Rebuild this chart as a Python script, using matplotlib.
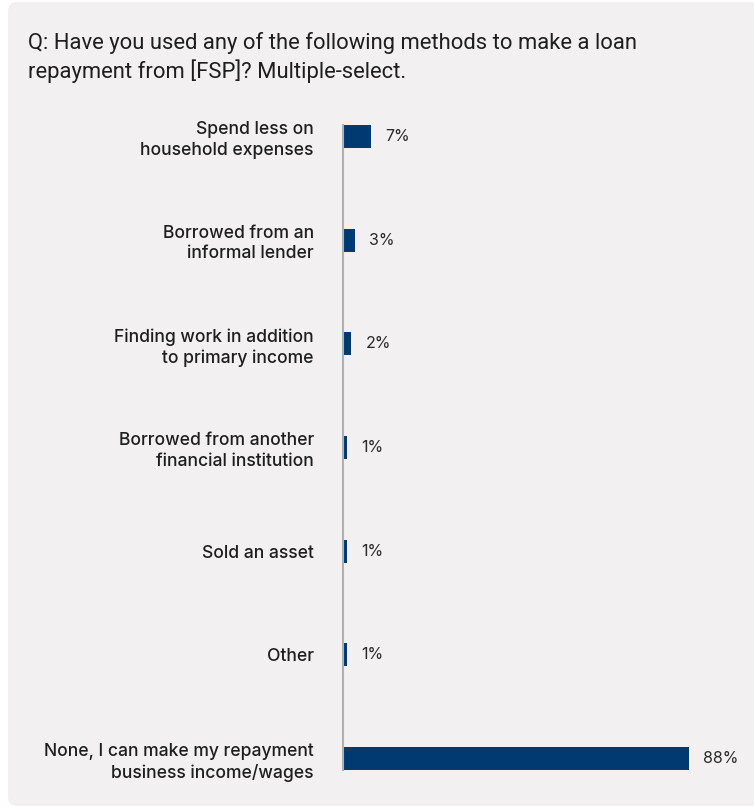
import matplotlib.pyplot as plt
from matplotlib.patches import FancyBboxPatch

# Daten
categories = [
    "Spend less on\nhousehold expenses",
    "Borrowed from an\ninformal lender",
    "Finding work in addition\nto primary income",
    "Borrowed from another\nfinancial institution",
    "Sold an asset",
    "Other",
    "None, I can make my repayment\nbusiness income/wages",
]
values = [7, 3, 2, 1, 1, 1, 88]
value_labels = ["7%", "3%", "2%", "1%", "1%", "1%", "88%"]

title = "Q: Have you used any of the following methods to make a loan\nrepayment from [FSP]? Multiple-select."

panel_color = "#f2f0f1"
bar_color = "#003a70"
text_color = "#1e1e1e"

plt.rcParams['font.family'] = ['Inter', 'DejaVu Sans']

W, H = 754, 807
fig = plt.figure(figsize=(W / 100, H / 100), dpi=100)
fig.patch.set_facecolor("white")

# Hintergrund-Panel mit runden Ecken
panel = FancyBboxPatch((8 / W, 1 / H), 1.2, (805 - 1) / H,
                       boxstyle="round,pad=0,rounding_size=0.012",
                       transform=fig.transFigure, facecolor=panel_color,
                       edgecolor="none", zorder=-5)
fig.patches.append(panel)

fig.text(28 / W, 1 - 32 / H, title, ha="left", va="top", fontsize=15.8,
         color=text_color, family=['Roboto', 'DejaVu Sans'], linespacing=1.3)

# Achsen: y von 125 bis 770 px
bar_h = 0.22
n = len(categories)
top_px, bot_px = 125, 770
ax = fig.add_axes([343 / W, 1 - bot_px / H, 393 / W, (bot_px - top_px) / H])
ax.set_zorder(2)
ax.set_facecolor("none")
ax.set_xlim(0, 100)
ax.set_ylim(n - 1 + bar_h / 2, -bar_h / 2)

ypos = list(range(n))
bars = ax.barh(ypos, values, height=bar_h, color=bar_color, zorder=2)

for b, lab in zip(bars, value_labels):
    ax.annotate(lab, (b.get_width(), b.get_y() + b.get_height() / 2),
                xytext=(10.5, 0), textcoords="offset points",
                ha="left", va="center", fontsize=11.5, color="#2a2a2a")

ax.set_yticks(ypos)
ax.set_yticklabels(categories, fontsize=12.6, color=text_color, ha="right",
                   linespacing=1.25)
ax.tick_params(axis="y", length=0, pad=21)
for lab in ax.get_yticklabels():
    lab.set_multialignment("right")
    lab.set_fontweight("medium")
ax.set_xticks([])

for s in ["top", "right", "bottom"]:
    ax.spines[s].set_visible(False)
ax.spines["left"].set_color("#b3b0b0")
ax.spines["left"].set_linewidth(1.5)
ax.spines["left"].set_zorder(3)

fig.savefig("out.png", dpi=100, facecolor=fig.get_facecolor())
